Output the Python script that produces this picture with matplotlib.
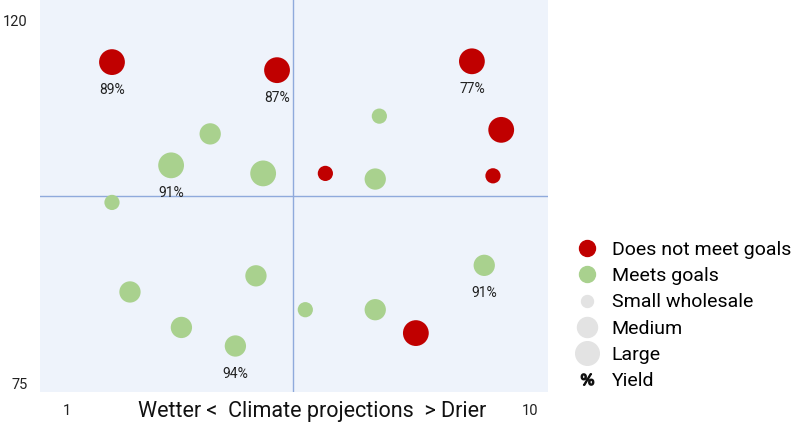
import matplotlib
matplotlib.use('Agg')
import matplotlib.pyplot as plt
from matplotlib.lines import Line2D

plt.rcParams['font.family'] = ['Roboto', 'DejaVu Sans']

# farms that do not meet goals
red_x = [1.87, 5.08, 8.87, 9.44, 6.02, 9.28, 7.78]
red_y = [114.8, 113.8, 114.9, 106.4, 101.0, 100.7, 81.2]
red_size = ['L', 'L', 'L', 'L', 'S', 'S', 'L']
red_yield = [89, 87, 77, None, None, None, None]

# farms that meet goals
green_x = [3.78, 3.02, 4.81, 7.07, 6.99, 1.87, 9.11, 2.22, 4.67, 5.63, 6.99, 3.22, 4.27]
green_y = [105.9, 102.0, 101.0, 108.1, 100.3, 97.4, 89.6, 86.3, 88.3, 84.1, 84.1, 81.9, 79.6]
green_size = ['M', 'L', 'L', 'S', 'M', 'S', 'M', 'M', 'M', 'S', 'M', 'M', 'M']
green_yield = [None, 91, None, None, None, None, 91, None, None, None, None, None, 94]

x_ticks = [1, 10]
y_ticks = [75, 120]
x_mid = 5.39
y_mid = 98.2

RED = '#C00000'
GREEN = '#A9D18E'
GREY = '#E3E3E3'
BG = '#EEF3FB'
LINE = '#8FAADC'
AREA = {'S': 120, 'M': 235, 'L': 345}

fig = plt.figure(figsize=(8, 4.36), dpi=100)
ax = fig.add_axes([0.05, 0.101, 0.635, 0.899])
ax.set_facecolor(BG)
for s in ax.spines.values():
    s.set_visible(False)

ax.axvline(x_mid, color=LINE, lw=1, zorder=1)
ax.axhline(y_mid, color=LINE, lw=1, zorder=1)

ax.scatter(red_x, red_y, s=[AREA[k] for k in red_size], color=RED, zorder=3, linewidths=0)
ax.scatter(green_x, green_y, s=[AREA[k] for k in green_size], color=GREEN, zorder=3, linewidths=0)

def put_labels(xs, ys, ylds):
    for x, y, v in zip(xs, ys, ylds):
        if v is None:
            continue
        ax.annotate('%d%%' % v, (x, y), xytext=(0, -20), textcoords='offset points',
                    ha='center', va='center', fontsize=10, color='#222222', zorder=4)

put_labels(red_x, red_y, red_yield)
put_labels(green_x, green_y, green_yield)

ax.set_xlim(0.47, 10.35)
ax.set_ylim(73.9, 122.5)
ax.set_xticks(x_ticks)
ax.set_yticks(y_ticks)
ax.tick_params(length=0, labelsize=10.5, colors='#222222')
ax.tick_params(axis='x', pad=9)
ax.tick_params(axis='y', pad=9)
fig.text(312 / 800, 1 - 411 / 436, 'Wetter <  Climate projections  > Drier',
         fontsize=15.5, ha='center', va='center', color='#111111')

handles = [
    Line2D([], [], ls='', marker='o', ms=11.5, mfc=RED, mec=RED),
    Line2D([], [], ls='', marker='o', ms=11.5, mfc=GREEN, mec=GREEN),
    Line2D([], [], ls='', marker='o', ms=8.6, mfc=GREY, mec=GREY),
    Line2D([], [], ls='', marker='o', ms=14.4, mfc=GREY, mec=GREY),
    Line2D([], [], ls='', marker='o', ms=17, mfc=GREY, mec=GREY),
    Line2D([], [], ls='', marker='$\\%$', ms=9, mfc='#111111', mec='#111111'),
]
labels = ['Does not meet goals', 'Meets goals', 'Small wholesale', 'Medium', 'Large', 'Yield']
fig.legend(handles, labels, loc='upper left', bbox_to_anchor=(0.722, 0.447),
           frameon=False, fontsize=14, handlelength=1.0, handletextpad=0.75,
           labelspacing=0.42, borderaxespad=0, borderpad=0)

fig.savefig('out.png', dpi=100)
